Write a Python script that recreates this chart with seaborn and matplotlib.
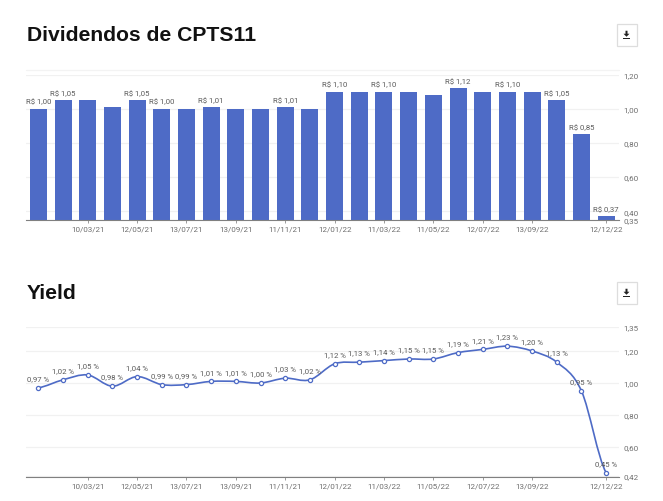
import matplotlib
matplotlib.use("Agg")
import matplotlib.pyplot as plt
import seaborn as sns
import pandas as pd
from matplotlib.patches import Rectangle, Polygon, PathPatch
from matplotlib.path import Path

months = list(range(24))
dividends = [1.00, 1.05, 1.05, 1.01, 1.05, 1.00, 1.00, 1.01, 1.00, 1.00, 1.01, 1.00,
             1.10, 1.10, 1.10, 1.10, 1.08, 1.12, 1.10, 1.10, 1.10, 1.05, 0.85, 0.37]
dividend_labels = ["R$ 1,00", "R$ 1,05", "", "", "R$ 1,05", "R$ 1,00", "", "R$ 1,01", "", "", "R$ 1,01", "",
                   "R$ 1,10", "", "R$ 1,10", "", "", "R$ 1,12", "", "R$ 1,10", "", "R$ 1,05", "R$ 0,85", "R$ 0,37"]
yields = [0.97, 1.02, 1.05, 0.98, 1.04, 0.99, 0.99, 1.01, 1.01, 1.00, 1.03, 1.02,
          1.12, 1.13, 1.14, 1.15, 1.15, 1.19, 1.21, 1.23, 1.20, 1.13, 0.95, 0.44]
yield_labels = ["0,97 %", "1,02 %", "1,05 %", "0,98 %", "1,04 %", "0,99 %", "0,99 %", "1,01 %",
                "1,01 %", "1,00 %", "1,03 %", "1,02 %", "1,12 %", "1,13 %", "1,14 %", "1,15 %",
                "1,15 %", "1,19 %", "1,21 %", "1,23 %", "1,20 %", "1,13 %", "0,95 %", "0,45 %"]
tick_pos = [2, 4, 6, 8, 10, 12, 14, 16, 18, 20, 23]
tick_labels = ["10/03/21", "12/05/21", "13/07/21", "13/09/21", "11/11/21", "12/01/22",
               "11/03/22", "11/05/22", "12/07/22", "13/09/22", "12/12/22"]
top_yticks = [0.35, 0.40, 0.60, 0.80, 1.00, 1.20]
top_ylabels = ["0,35", "0,40", "0,60", "0,80", "1,00", "1,20"]
bot_yticks = [0.42, 0.60, 0.80, 1.00, 1.20, 1.35]
bot_ylabels = ["0,42", "0,60", "0,80", "1,00", "1,20", "1,35"]

BLUE = "#4e6bc6"
GREY = "#5a5a5a"
W, H = 663, 502

sns.set_theme(style="white")
plt.rcParams["font.family"] = ["Roboto", "DejaVu Sans"]

fig = plt.figure(figsize=(W / 100, H / 100), dpi=100, facecolor="white")


def make_axes(left, right, top, bottom):
    return fig.add_axes([left / W, 1 - bottom / H, (right - left) / W, (bottom - top) / H])


def style(ax, yticks, ylabels):
    ax.set_xlim(-0.5, 23.5)
    ax.set_xlabel("")
    ax.set_ylabel("")
    ax.set_axisbelow(True)
    ax.yaxis.tick_right()
    ax.set_yticks(yticks)
    ax.set_yticklabels(ylabels, fontsize=5.8, color="#6e6e6e")
    ax.tick_params(axis="y", length=0, pad=3.5)
    ax.set_xticks(tick_pos)
    ax.set_xticklabels(tick_labels, fontsize=5.8, color="#6e6e6e")
    ax.tick_params(axis="x", length=2.5, width=0.7, color="#999999", pad=1.5, bottom=True)
    for s in ["top", "left", "right"]:
        ax.spines[s].set_visible(False)
    ax.spines["bottom"].set_color("#808080")
    ax.spines["bottom"].set_linewidth(0.8)
    ax.grid(axis="y", color="#f1f1f1", linewidth=0.9)
    ax.grid(axis="x", visible=False)


# Dividend bars
ax1 = make_axes(26, 618.5, 75.5, 220.8)
df1 = pd.DataFrame({"m": months, "v": dividends})
sns.barplot(data=df1, x="m", y="v", color=BLUE, saturation=1, width=0.69, linewidth=0, ax=ax1)
ax1.set_ylim(0.35, 1.20)
style(ax1, top_yticks, top_ylabels)
ax1.axhline(1.2235, color="#f3f3f3", linewidth=0.9, clip_on=False)
for m, v, t in zip(months, dividends, dividend_labels):
    if t:
        ax1.annotate(t, (m, v), xytext=(0, 5.4), textcoords="offset points", ha="center",
                     va="center", fontsize=5.6, color=GREY)

# Yield line
ax2 = make_axes(26, 618.5, 328, 478)
df2 = pd.DataFrame({"m": months, "v": yields})
sns.lineplot(data=df2, x="m", y="v", linestyle="", marker="o", markersize=3,
             markerfacecolor="white", markeredgecolor=BLUE, markeredgewidth=0.9,
             color=BLUE, zorder=4, ax=ax2)
ax2.set_ylim(0.4125, 1.35)
style(ax2, bot_yticks, bot_ylabels)

verts = [(months[0], yields[0])]
codes = [Path.MOVETO]
n = len(yields)
for i in range(n - 1):
    t0 = (yields[min(i + 1, n - 1)] - yields[max(i - 1, 0)]) / 2
    t1 = (yields[min(i + 2, n - 1)] - yields[i]) / 2
    verts += [(months[i] + 1 / 3, yields[i] + t0 / 3),
              (months[i + 1] - 1 / 3, yields[i + 1] - t1 / 3),
              (months[i + 1], yields[i + 1])]
    codes += [Path.CURVE4] * 3
ax2.add_patch(PathPatch(Path(verts, codes), facecolor="none", edgecolor=BLUE, linewidth=1.2, zorder=3))

for m, v, t in zip(months, yields, yield_labels):
    ax2.annotate(t, (m, v), xytext=(0, 7), textcoords="offset points", ha="center",
                 va="center", fontsize=5.6, color=GREY, zorder=5)

# Titles
fig.text(27 / W, 1 - 35.5 / H, "Dividendos de CPTS11", fontsize=15.2, fontweight="bold",
         color="#111111", family="Liberation Sans", va="center", ha="left")
fig.text(27 / W, 1 - 293.5 / H, "Yield", fontsize=15.2, fontweight="bold",
         color="#111111", family="Liberation Sans", va="center", ha="left")


# Download buttons
def button(x0, y0):
    w, h = 20, 21.5
    fig.add_artist(Rectangle((x0 / W, 1 - (y0 + h) / H), w / W, h / H, transform=fig.transFigure,
                             facecolor="white", edgecolor="#dddddd", linewidth=0.9))
    cx, cy = x0 + w / 2, y0 + h / 2
    pts = [(cx - 1, cy - 4), (cx + 1, cy - 4), (cx + 1, cy - 1), (cx + 3, cy - 1),
           (cx, cy + 2), (cx - 3, cy - 1), (cx - 1, cy - 1)]
    fig.add_artist(Polygon([(x / W, 1 - y / H) for x, y in pts], closed=True,
                           transform=fig.transFigure, facecolor="#222222", edgecolor="none"))
    bar = [(cx - 3.5, cy + 3), (cx + 3.5, cy + 3), (cx + 3.5, cy + 4), (cx - 3.5, cy + 4)]
    fig.add_artist(Polygon([(x / W, 1 - y / H) for x, y in bar], closed=True,
                           transform=fig.transFigure, facecolor="#222222", edgecolor="none"))


button(616.5, 25)
button(616.5, 283)

fig.savefig("out.png", dpi=100, facecolor="white")
